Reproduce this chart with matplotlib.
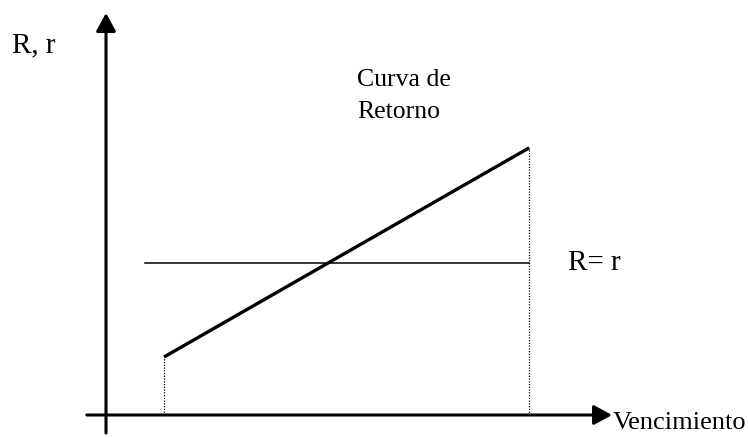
import matplotlib
matplotlib.use('Agg')
import matplotlib.pyplot as plt

# Diagram values (arbitrary units)
maturity = [1.45, 10.58]      # start / end of the return curve
curve_rate = [1.45, 6.68]     # R along the return curve
flat_x = [0.98, 10.58]        # extent of the R = r line
flat_rate = 3.8               # level of R = r

plt.rcParams['font.family'] = ['Liberation Serif', 'DejaVu Serif']

fig = plt.figure(figsize=(7.48, 4.38), dpi=100)
ax = fig.add_axes([0, 0, 1, 1])
ax.set_xlim(-2.65, 16.05)
ax.set_ylim(-0.575, 10.375)
ax.axis('off')

# Axes with arrows
arrow = dict(arrowstyle='-|>,head_length=0.55,head_width=0.3',
             mutation_scale=20, lw=2.2, color='black', shrinkA=0, shrinkB=0)
ax.annotate('', xy=(12.65, 0), xytext=(-0.48, 0), arrowprops=arrow)
ax.annotate('', xy=(0, 10.05), xytext=(0, -0.45), arrowprops=arrow)

# Return curve and flat line
ax.plot(maturity, curve_rate, color='black', lw=2.4, solid_capstyle='butt')
ax.plot(flat_x, [flat_rate, flat_rate], color='black', lw=1.1)

# Dotted guides down to the maturity axis
for x, y in zip(maturity, curve_rate):
    ax.plot([x, x], [0, y], color='black', lw=0.9, linestyle=(0, (1, 1.2)))

# Labels
ax.text(-2.35, 9.25, 'R, r', fontsize=21, va='center', ha='left')
ax.text(6.27, 8.65, 'Curva de\nRetorno', fontsize=18.5, va='top', ha='left',
        linespacing=1.6)
ax.text(11.55, flat_rate, 'R= r', fontsize=21, va='center', ha='left')
ax.text(12.68, -0.2, 'Vencimiento', fontsize=19, va='center', ha='left')

fig.savefig('out.png', dpi=100)
plt.close(fig)
